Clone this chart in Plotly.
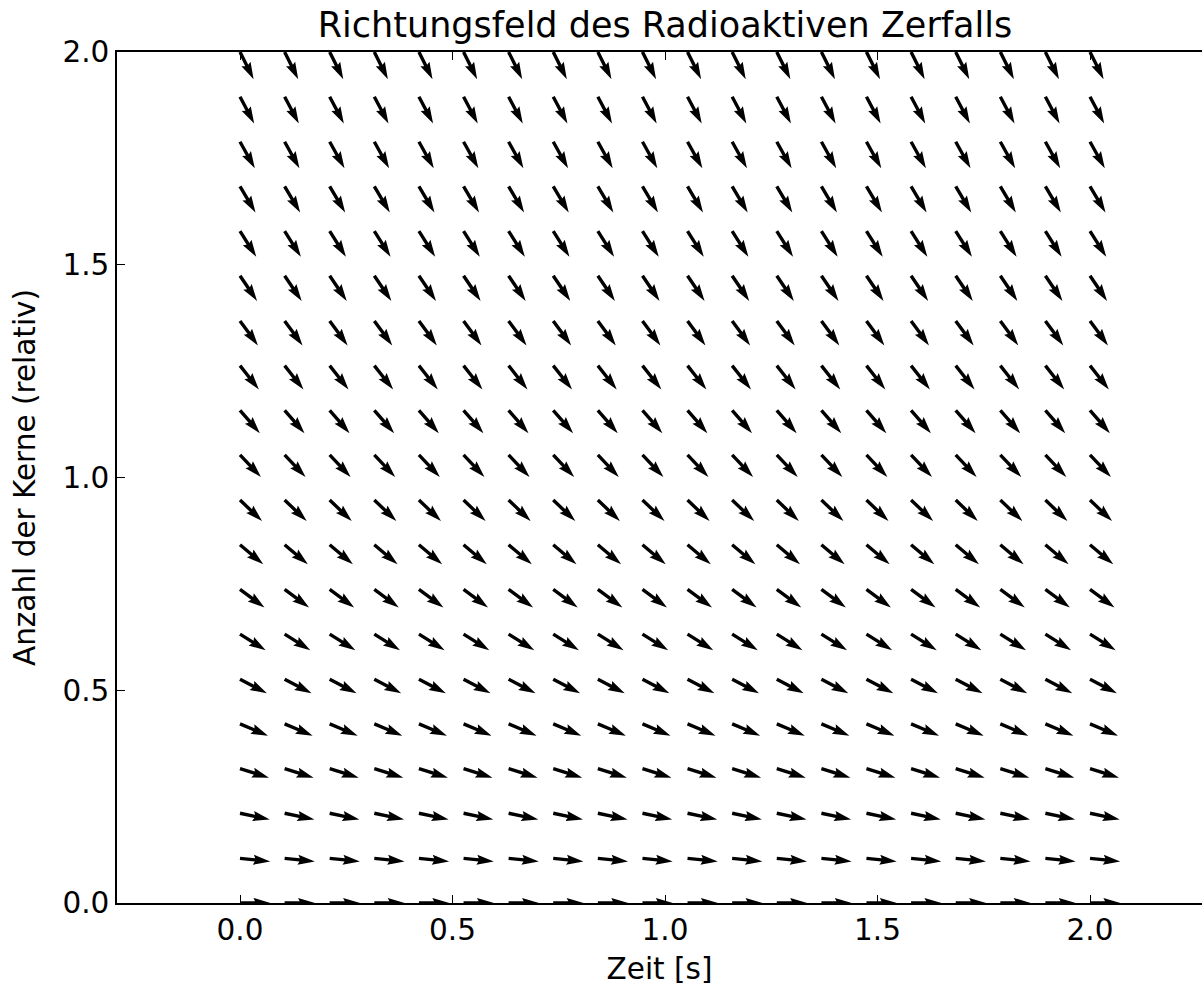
import numpy as np
import plotly.graph_objects as go

# ---- data ----
time_values = [0.0, 0.105, 0.211, 0.316, 0.421, 0.526, 0.632, 0.737, 0.842, 0.947,
               1.053, 1.158, 1.263, 1.368, 1.474, 1.579, 1.684, 1.789, 1.895, 2.0]
nuclei_values = [0.0, 0.105, 0.211, 0.316, 0.421, 0.526, 0.632, 0.737, 0.842, 0.947,
                 1.053, 1.158, 1.263, 1.368, 1.474, 1.579, 1.684, 1.789, 1.895, 2.0]
# slope dN/dt of the direction field for each row (decay constant 1)
slope_values = [-0.0, -0.105, -0.211, -0.316, -0.421, -0.526, -0.632, -0.737, -0.842, -0.947,
                -1.053, -1.158, -1.263, -1.368, -1.474, -1.579, -1.684, -1.789, -1.895, -2.0]
x_tick_vals = [0.0, 0.5, 1.0, 1.5, 2.0]
x_tick_text = ["0.0", "0.5", "1.0", "1.5", "2.0"]
y_tick_vals = [0.0, 0.5, 1.0, 1.5, 2.0]
y_tick_text = ["0.0", "0.5", "1.0", "1.5", "2.0"]

# ---- layout geometry ----
W, H = 1202, 992
ML, MR, MT, MB = 117, 0, 52, 89
x_range = [-0.28941, 2.26353]
y_range = [0.0, 2.0]
sx = (W - ML - MR) / (x_range[1] - x_range[0])
sy = (H - MT - MB) / (y_range[1] - y_range[0])

# matplotlib-like quiver arrow shape (pixel units)
shaft_w = 3.4
arrow_len = 30.4
L = arrow_len / shaft_w
hal, hl, hw = 4.5, 5.0, 3.0
base = np.array([(0, 0.5), (L - hal, 0.5), (L - hl, hw / 2), (L, 0),
                 (L - hl, -hw / 2), (L - hal, -0.5), (0, -0.5), (0, 0.5)]) * shaft_w

xs, ys = [], []
for n, s in zip(nuclei_values, slope_values):
    dxp, dyp = 1.0 * sx, s * sy
    norm = np.hypot(dxp, dyp)
    ux, uy = dxp / norm, dyp / norm
    for t in time_values:
        px = base[:, 0] * ux - base[:, 1] * uy
        py = base[:, 0] * uy + base[:, 1] * ux
        xs.extend((t + px / sx).tolist())
        ys.extend((n + py / sy).tolist())
        xs.append(None)
        ys.append(None)

fig = go.Figure()
fig.add_trace(go.Scatter(
    x=xs, y=ys, mode="lines", fill="toself", fillcolor="black",
    line=dict(width=0, color="black"), hoverinfo="skip", showlegend=False,
))

font_family = "DejaVu Sans"
tick_size = 29.5
fig.update_layout(
    width=W, height=H,
    margin=dict(l=ML, r=MR, t=MT, b=MB, pad=0),
    paper_bgcolor="white", plot_bgcolor="white",
    font=dict(family=font_family, color="black", size=tick_size),
    title=dict(
        text="Richtungsfeld des Radioaktiven Zerfalls",
        font=dict(family=font_family, size=35, color="black"),
        x=665 / W, xanchor="center", xref="container",
        y=1 - 25 / H, yanchor="middle", yref="container",
    ),
    xaxis=dict(
        range=x_range, showgrid=False, zeroline=False,
        showline=True, linecolor="black", linewidth=1.5, mirror="ticks",
        ticks="inside", ticklen=8, tickwidth=1.2, tickcolor="black",
        tickvals=x_tick_vals, ticktext=x_tick_text,
        tickfont=dict(family=font_family, size=tick_size, color="black"),
        title=dict(text="Zeit [s]", standoff=12,
                   font=dict(family=font_family, size=tick_size, color="black")),
    ),
    yaxis=dict(
        range=y_range, showgrid=False, zeroline=False,
        showline=True, linecolor="black", linewidth=1.5, mirror=False,
        ticks="inside", ticklen=8, tickwidth=1.2, tickcolor="black",
        tickvals=y_tick_vals, ticktext=y_tick_text,
        tickfont=dict(family=font_family, size=tick_size, color="black"),
        title=dict(text="Anzahl der Kerne (relativ)", standoff=18,
                   font=dict(family=font_family, size=tick_size, color="black")),
    ),
)

fig.write_html("out.html")
